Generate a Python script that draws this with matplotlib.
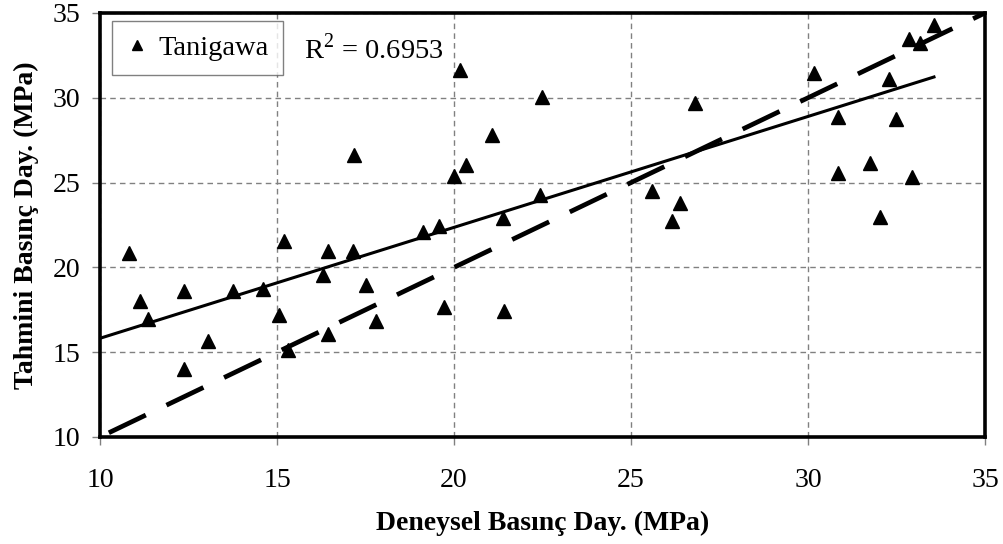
import matplotlib
matplotlib.use("Agg")
import matplotlib.pyplot as plt
import numpy as np

# measured (x) vs predicted (y) compressive strength, MPa
deneysel = [10.83, 11.13, 11.35, 12.37, 12.37, 13.04, 13.77, 14.61, 15.07, 15.20,
            15.32, 16.31, 16.43, 16.43, 17.16, 17.18, 17.50, 17.79, 19.13, 19.58,
            19.72, 20.00, 20.17, 20.34, 21.07, 21.39, 21.41, 22.43, 22.48, 25.58,
            26.16, 26.38, 26.80, 30.17, 30.85, 30.85, 31.75, 32.03, 32.30, 32.49,
            32.86, 32.95, 33.16, 33.56]
tahmini = [20.87, 18.02, 16.96, 18.63, 14.00, 15.68, 18.63, 18.73, 17.19, 21.57,
           15.13, 19.55, 20.99, 16.05, 20.99, 26.63, 18.96, 16.86, 22.07, 22.46,
           17.65, 25.40, 31.64, 26.04, 27.81, 22.93, 17.45, 24.27, 30.07, 24.52,
           22.74, 23.78, 29.68, 31.48, 28.89, 25.58, 26.17, 22.99, 31.10, 28.75,
           33.45, 25.35, 33.25, 34.29]
# trendline as drawn in the original chart
trend_slope = 0.654
trend_icpt = 9.28
trend_x = [10.0, 33.6]
# 1:1 reference line
ideal_x = [10.25, 35.0]
r2_text = "R$^{2}$ = 0.6953"
series_name = "Tanigawa"

plt.rcParams["font.family"] = ["Liberation Serif", "DejaVu Serif"]
plt.rcParams["mathtext.fontset"] = "custom"
plt.rcParams["mathtext.rm"] = "Liberation Serif"
plt.rcParams["lines.scale_dashes"] = False

fig = plt.figure(figsize=(10.04, 5.44), dpi=100)
ax = fig.add_axes([100 / 1004, 1 - 437 / 544, 885 / 1004, 424 / 544])

x = np.array(deneysel)
y = np.array(tahmini)

xt = np.array(trend_x)
ax.plot(xt, trend_slope * xt + trend_icpt, color="black", lw=2.2,
        solid_capstyle="butt", zorder=3)

ax.plot(ideal_x, ideal_x, color="black", lw=3.4, dashes=(29.5, 16.5),
        dash_capstyle="butt", zorder=3)

ax.plot(x, y, linestyle="none", marker="^", ms=9.5, color="black",
        label=series_name, zorder=4)

ax.set_xlim(10, 35)
ax.set_ylim(10, 35)
ax.set_xticks([10, 15, 20, 25, 30, 35])
ax.set_yticks([10, 15, 20, 25, 30, 35])
ax.grid(True, color="#808080", linestyle=(0, (4, 3)), linewidth=1.0)
ax.set_axisbelow(True)
for s in ax.spines.values():
    s.set_linewidth(2.6)
    s.set_color("black")
ax.tick_params(axis="both", length=6, width=1.0, color="#808080",
               labelsize=20, direction="out")
ax.tick_params(axis="y", pad=8)
ax.tick_params(axis="x", pad=16)

ax.set_xlabel("Deneysel Basınç Day. (MPa)", fontsize=20, fontweight="bold", labelpad=13)
ax.set_ylabel("Tahmini Basınç Day. (MPa)", fontsize=20, fontweight="bold", labelpad=10)

leg = ax.legend(loc="upper left", bbox_to_anchor=(0.0132, 0.982), borderaxespad=0,
                fontsize=20.5, frameon=True, fancybox=False, handlelength=0.8,
                handletextpad=0.35, borderpad=0.5, markerscale=0.75)
leg.get_frame().set_edgecolor("#606060")
leg.get_frame().set_linewidth(1.0)

ax.text(0.230, 0.915, r2_text, transform=ax.transAxes, fontsize=20.5,
        ha="left", va="center")

fig.savefig("out.png", dpi=100)
